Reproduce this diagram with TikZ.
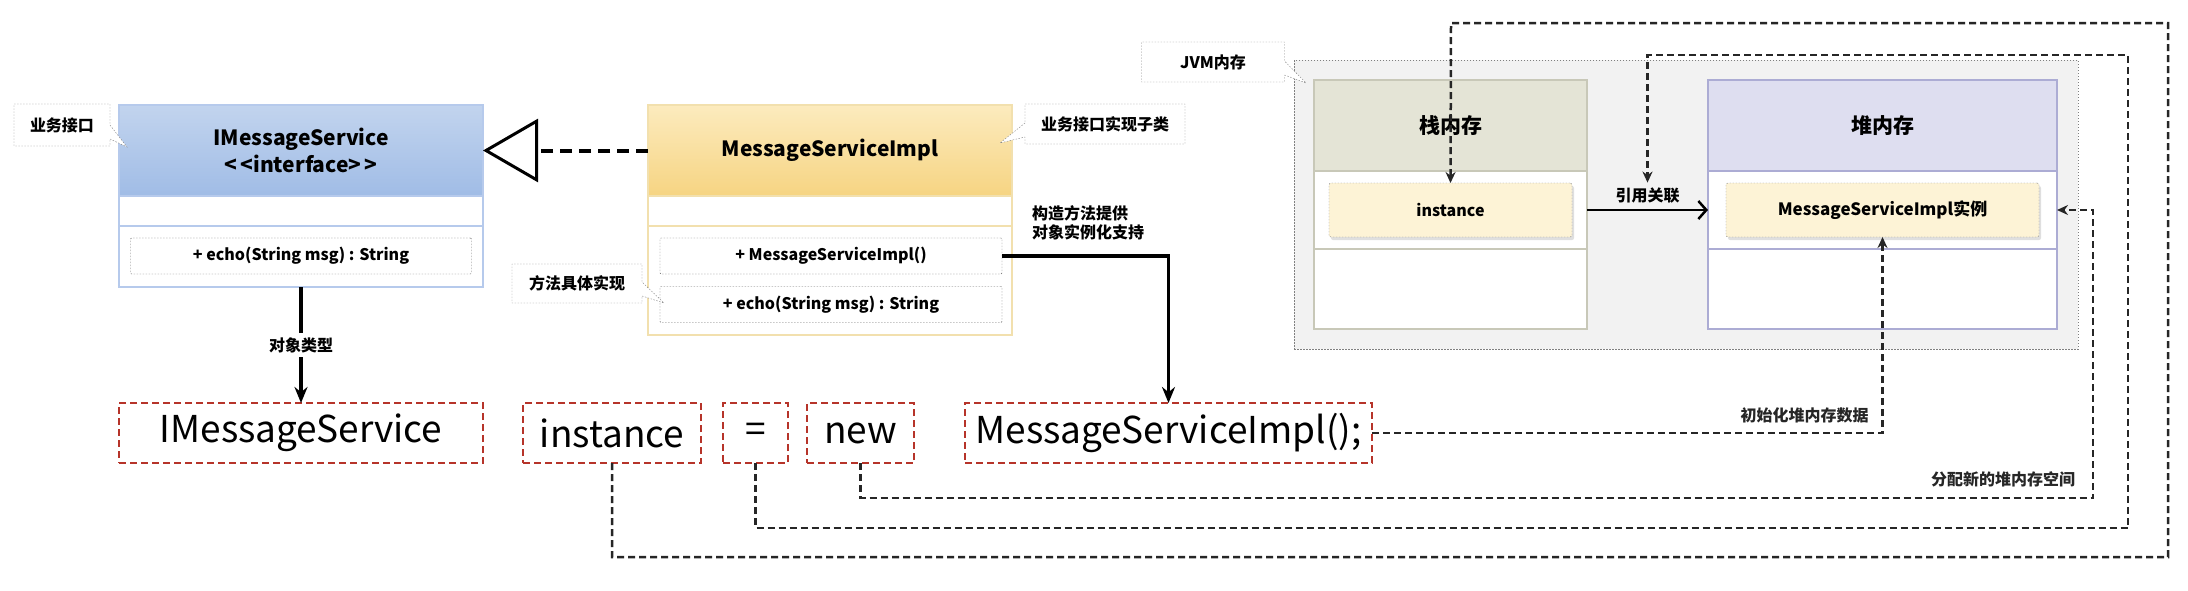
\documentclass[tikz,border=0pt]{standalone}
\usepackage{fontspec}
\setmainfont{Noto Sans CJK SC}
\usetikzlibrary{arrows.meta,positioning,shadows,shapes.callouts}

\definecolor{ifaceTop}{RGB}{194,212,238}
\definecolor{ifaceBot}{RGB}{160,188,230}
\definecolor{ifaceLine}{RGB}{182,202,236}
\definecolor{implTop}{RGB}{252,235,190}
\definecolor{implBot}{RGB}{246,212,130}
\definecolor{implLine}{RGB}{242,224,174}
\definecolor{stackHead}{RGB}{228,228,214}
\definecolor{stackLine}{RGB}{200,200,184}
\definecolor{heapHead}{RGB}{222,222,240}
\definecolor{heapLine}{RGB}{172,172,212}
\definecolor{jvmBack}{RGB}{242,242,242}
\definecolor{objFill}{RGB}{253,243,214}
\definecolor{codeRed}{RGB}{182,52,42}

\begin{document}
\begin{tikzpicture}[x=1pt,y=-1pt,
		every node/.style={inner sep=0pt,outer sep=0pt},
		sm/.style={font=\fontsize{16}{19}\selectfont},
		smb/.style={font=\fontsize{16}{19}\selectfont\bfseries},
		big/.style={font=\fontsize{21}{27}\selectfont\bfseries,align=center},
		comp/.style={draw=#1,line width=1.5pt,fill=white,anchor=north west},
		meth/.style={draw=gray!80!black,dash pattern=on 1.5pt off 1.5pt,fill=white,rounded corners=1pt,minimum height=36pt,smb},
		obj/.style={draw=gray,dash pattern=on 1.5pt off 1.5pt,fill=objFill,rounded corners=2pt,minimum height=54pt,smb,
			drop shadow={shadow xshift=2pt,shadow yshift=-3pt,opacity=.25}},
		note/.style={rectangle callout,draw=gray,dash pattern=on 1.5pt off 1.5pt,fill=white,callout pointer width=14pt,smb},
		code/.style={draw=codeRed,line width=2.5pt,dash pattern=on 7pt off 4pt,minimum height=60pt,font=\fontsize{37}{44}\selectfont},
		solid line/.style={line width=3.5pt,-{Stealth[length=16pt,width=13pt]}},
		link/.style={black!85,line width=2.5pt,dash pattern=on 7pt off 4pt,-{Stealth[length=11pt,width=10pt]}}]
		\useasboundingbox (0,0) rectangle (2188,590);
		\fill[white] (0,0) rectangle (2188,590);
		
		\node[draw=gray,dash pattern=on 1.5pt off 1.5pt,fill=jvmBack,anchor=north west,minimum width=784pt,minimum height=289pt] (jvm) at (1294,60) {};
		\node[comp=stackLine,fill=stackHead,minimum width=273pt,minimum height=91pt,big] (stack) at (1314,80) {栈内存};
		\node[comp=stackLine,minimum width=273pt,minimum height=78pt] (stackRow) at (1314,171) {};
		\node[comp=stackLine,minimum width=273pt,minimum height=80pt] (stackRest) at (1314,249) {};
		\node[comp=heapLine,fill=heapHead,minimum width=349pt,minimum height=91pt,big] (heap) at (1708,80) {堆内存};
		\node[comp=heapLine,minimum width=349pt,minimum height=78pt] (heapRow) at (1708,171) {};
		\node[comp=heapLine,minimum width=349pt,minimum height=80pt] (heapRest) at (1708,249) {};
		\node[obj,minimum width=243pt] (stackObj) at (1450.5,210) {instance};
		\node[obj,minimum width=313pt,font=\fontsize{17}{20}\selectfont\bfseries] (heapObj) at (1882.5,210) {MessageServiceImpl实例};
		
		\node[comp=ifaceLine,top color=ifaceTop,bottom color=ifaceBot,minimum width=364pt,minimum height=91pt,big] (iface) at (119,105) {IMessageService\\<\,<interface>\,>};
		\node[comp=ifaceLine,minimum width=364pt,minimum height=30pt] (ifaceA) at (119,196) {};
		\node[comp=ifaceLine,minimum width=364pt,minimum height=61pt] (ifaceO) at (119,226) {};
		\node[meth,minimum width=341pt] (ifaceEcho) at (301,256) {+ echo(String msg) : String};
		
		\node[comp=implLine,top color=implTop,bottom color=implBot,minimum width=364pt,minimum height=91pt,big] (impl) at (648,105) {MessageServiceImpl};
		\node[comp=implLine,minimum width=364pt,minimum height=30pt] (implA) at (648,196) {};
		\node[comp=implLine,minimum width=364pt,minimum height=109pt] (implO) at (648,226) {};
		\node[meth,minimum width=342pt] (implCtor) at (831,256) {+ MessageServiceImpl()};
		\node[meth,minimum width=342pt] (implEcho) at (831,304.5) {+ echo(String msg) : String};
		
		\foreach \n/\x/\w/\t in {bType/301/364/IMessageService,bVar/612/178/instance,bEq/755.5/65/=,bNew/860.5/107/new,bCtor/1168.5/407/MessageServiceImpl();}
		\node[code,minimum width=\w pt] (\n) at (\x,433) {\t};
		
		\draw[line width=4pt,dash pattern=on 12pt off 7pt,-{Triangle[open,length=55pt,width=63pt,line width=3pt]}] (impl.west) -- (iface.east);
		\draw[solid line] (ifaceO.south) -- node[fill=white,smb,inner sep=4pt] {对象类型} (bType.north);
		\draw[solid line] (implCtor.east) -| (bCtor.north);
		\node[smb,align=left,anchor=north west] (ctorNote) at (1032,206) {构造方法提供\\对象实例化支持};
		\draw[line width=2.5pt,-{Straight Barb[length=8pt,width=18pt]}] (stackRow.east) -- node[above=7pt,smb] (refLbl) {引用关联} (heapRow.west);
		
		\draw[link] (bVar.south) |- (2168,557) |- (1451,23) -- (stackObj.north);
		\draw[link,shorten >=5pt] (bEq.south) |- (2128,528) |- (1647.5,55) -- (refLbl.north);
		\draw[link] (bNew.south) |- (2093,498) node[smb,anchor=south east,xshift=-18pt,yshift=11pt] {分配新的堆内存空间} |- (heapRow.east);
		\draw[link] (bCtor.east) -| node[pos=0.5,smb,anchor=south east,xshift=-14pt,yshift=10pt] {初始化堆内存数据} (heapObj.south);
		
		\node[note,minimum width=96pt,minimum height=42pt,callout absolute pointer={(127,147)}] (noteIface) at (62,125) {业务接口};
		\node[note,minimum width=160pt,minimum height=40pt,callout absolute pointer={(1000,143)}] (noteImpl) at (1105,124) {业务接口实现子类};
		\node[note,minimum width=130pt,minimum height=39pt,callout absolute pointer={(664,303)}] (noteEcho) at (577,283.5) {方法具体实现};
		\node[note,minimum width=143pt,minimum height=40pt,callout absolute pointer={(1306,83)}] (noteJvm) at (1213,62) {JVM内存};
\end{tikzpicture}
\end{document}
